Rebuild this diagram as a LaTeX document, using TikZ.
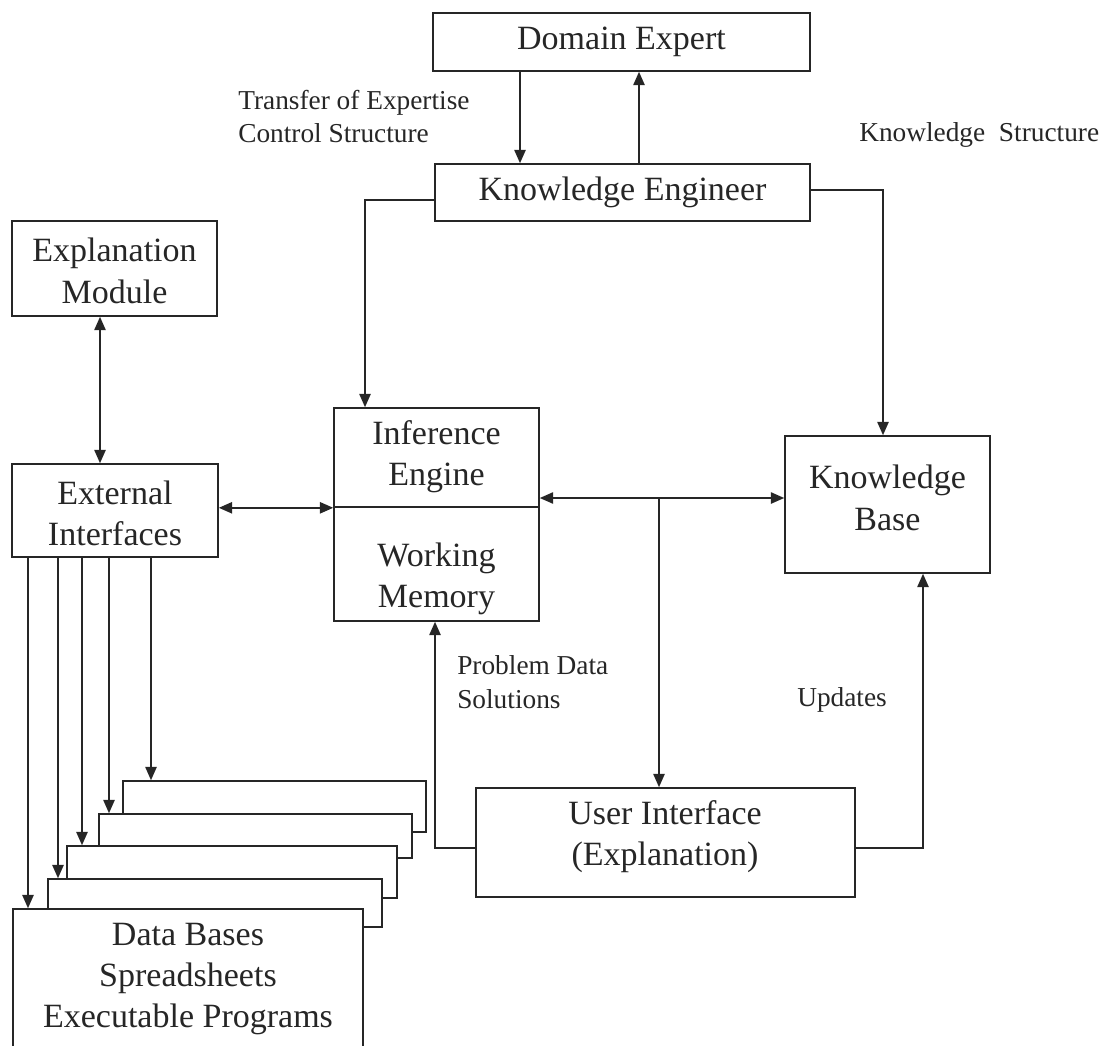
\documentclass[tikz,border=0pt]{standalone}
\usepackage{fontspec}
\setmainfont{Liberation Serif}
\usetikzlibrary{arrows.meta,fit,calc}
\begin{document}
\begin{tikzpicture}[x=0.75pt,y=-0.75pt,
  box/.style={draw=black!85, line width=1.2pt, fill=white, inner sep=0pt},
  btxt/.style={inner sep=0pt, align=center, font=\fontsize{25.5}{31}\selectfont, text=black!85},
  lbl/.style={inner sep=0pt, align=left, font=\fontsize{20.5}{25}\selectfont, text=black!85, anchor=west},
  conn/.style={draw=black!85, line width=1.2pt, -{Triangle[length=10pt,width=8.5pt]}},
  bi/.style={draw=black!85, line width=1.2pt, {Triangle[length=10pt,width=8.5pt]}-{Triangle[length=10pt,width=8.5pt]}}]
\useasboundingbox (0,0) rectangle (1105,1045);

% main boxes
\node[box, fit={(433,13) (810,71)}] (de) {};
\node[btxt] (det) at (621.5,42) {Domain Expert};
\node[box, fit={(435,164) (810,221)}] (ke) {};
\node[btxt] (ket) at (622.5,192) {Knowledge Engineer};
\node[box, fit={(12,221) (217,316)}] (em) {};
\node[btxt] (emt) at (114.5,271) {Explanation\\Module};
\node[box, fit={(12,464) (218,557)}] (ext) {};
\node[btxt] (extt) at (115,513.5) {External\\Interfaces};
\node[box, fit={(334,408) (539,507)}] (ie) {};
\node[btxt] (iet) at (436.5,457) {Inference\\Engine};
\node[box, fit={(334,507) (539,621)}] (wm) {};
\node[btxt] (wmt) at (436.5,579) {Working\\Memory};
\node[box, fit={(785,436) (990,573)}] (kb) {};
\node[btxt] (kbt) at (887.5,498) {Knowledge\\Base};
\node[box, fit={(476,788) (855,897)}] (ui) {};
\node[btxt] (uit) at (665,836.5) {User Interface\\(Explanation)};

% stacked data boxes (back to front)
\node[box, fit={(123,781) (426,832)}] (db1) {};
\node[box, fit={(99,814) (412,858)}] (db2) {};
\node[box, fit={(67,846) (397,898)}] (db3) {};
\node[box, fit={(48,879) (382,927)}] (db4) {};
\node[box, fit={(13,909) (363,1050)}] (db5) {};
\node[btxt] (dbt) at (188,979) {Data Bases\\Spreadsheets\\Executable Programs};

% labels
\node[lbl] (l1) at (238,116.5) {Transfer of Expertise\\Control Structure};
\node[lbl] (l2) at (859,135) {Knowledge~ Structure};
\node[lbl] (l3) at (457,682) {Problem Data\\Solutions};
\node[lbl] (l4) at (797,700) {Updates};

% helper coordinates
\coordinate (cdown) at (520,0);
\coordinate (cup) at (639,0);
\coordinate (kel) at (365,200);
\coordinate (ker) at (883,190);
\coordinate (cem) at (100,0);
\coordinate (j) at (659,498);
\coordinate (uil) at (435,848);
\coordinate (uir) at (923,848);
\coordinate (a1) at (28,0);
\coordinate (a2) at (58,0);
\coordinate (a3) at (82,0);
\coordinate (a4) at (109,0);
\coordinate (a5) at (151,0);

% connectors
\draw[conn] (de.south -| cdown) -- (ke.north -| cdown);
\draw[conn] (ke.north -| cup) -- (de.south -| cup);
\draw[conn] (ke.west |- kel) -| (ie.north -| kel);
\draw[conn] (ke.east |- ker) -| (kb.north -| ker);
\draw[bi] (em.south -| cem) -- (ext.north -| cem);
\draw[bi] (ext.east |- ie.south) -- (ie.south west);
\draw[bi] (ie.east |- j) -- (kb.west |- j);
\draw[conn] (j) -- (ui.north -| j);
\draw[conn] (ui.west |- uil) -| (wm.south -| uil);
\draw[conn] (ui.east |- uir) -| (kb.south -| uir);
\draw[conn] (ext.south -| a1) -- (db5.north -| a1);
\draw[conn] (ext.south -| a2) -- (db4.north -| a2);
\draw[conn] (ext.south -| a3) -- (db3.north -| a3);
\draw[conn] (ext.south -| a4) -- (db2.north -| a4);
\draw[conn] (ext.south -| a5) -- (db1.north -| a5);
\end{tikzpicture}
\end{document}
